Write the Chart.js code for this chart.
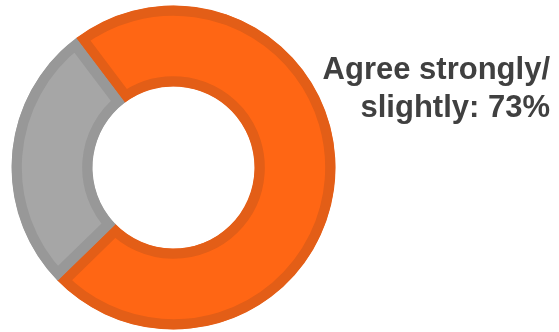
<!DOCTYPE html>
<html>
<head>
<meta charset="utf-8">
<script src="https://cdn.jsdelivr.net/npm/chart.js@4/dist/chart.umd.min.js"></script>
<style>
  html, body { margin: 0; padding: 0; background: #fff; }
  #wrap { position: relative; width: 559px; height: 332px; }
  #label {
    position: absolute;
    right: 9px;
    top: 50px;
    text-align: right;
    font: bold 31px "Liberation Sans", Arial, sans-serif;
    line-height: 38px;
    color: #404040;
  }
</style>
</head>
<body>
<div id="wrap">
  <canvas id="donut" width="559" height="332"></canvas>
  <div id="label">Agree strongly/<br>slightly: 73%</div>
</div>
<script>
// Data
const categories = ['Agree strongly/slightly', 'Other'];
const shares = [73, 27];

// Colors
const fillColors = ['#FF6614', '#A6A6A6'];
const edgeColors = ['#E35E17', '#989898'];

const ctx = document.getElementById('donut').getContext('2d');

new Chart(ctx, {
  type: 'doughnut',
  data: {
    labels: categories,
    datasets: [{
      data: shares,
      backgroundColor: fillColors,
      borderColor: edgeColors,
      borderWidth: 10,
      borderAlign: 'inner',
      hoverOffset: 0
    }]
  },
  options: {
    responsive: false,
    animation: false,
    rotation: -37,
    cutout: '50%',
    radius: 162,
    layout: {
      padding: { left: 0, right: 212, top: 3, bottom: 0 }
    },
    plugins: {
      legend: { display: false },
      tooltip: { enabled: false }
    }
  }
});
</script>
</body>
</html>
